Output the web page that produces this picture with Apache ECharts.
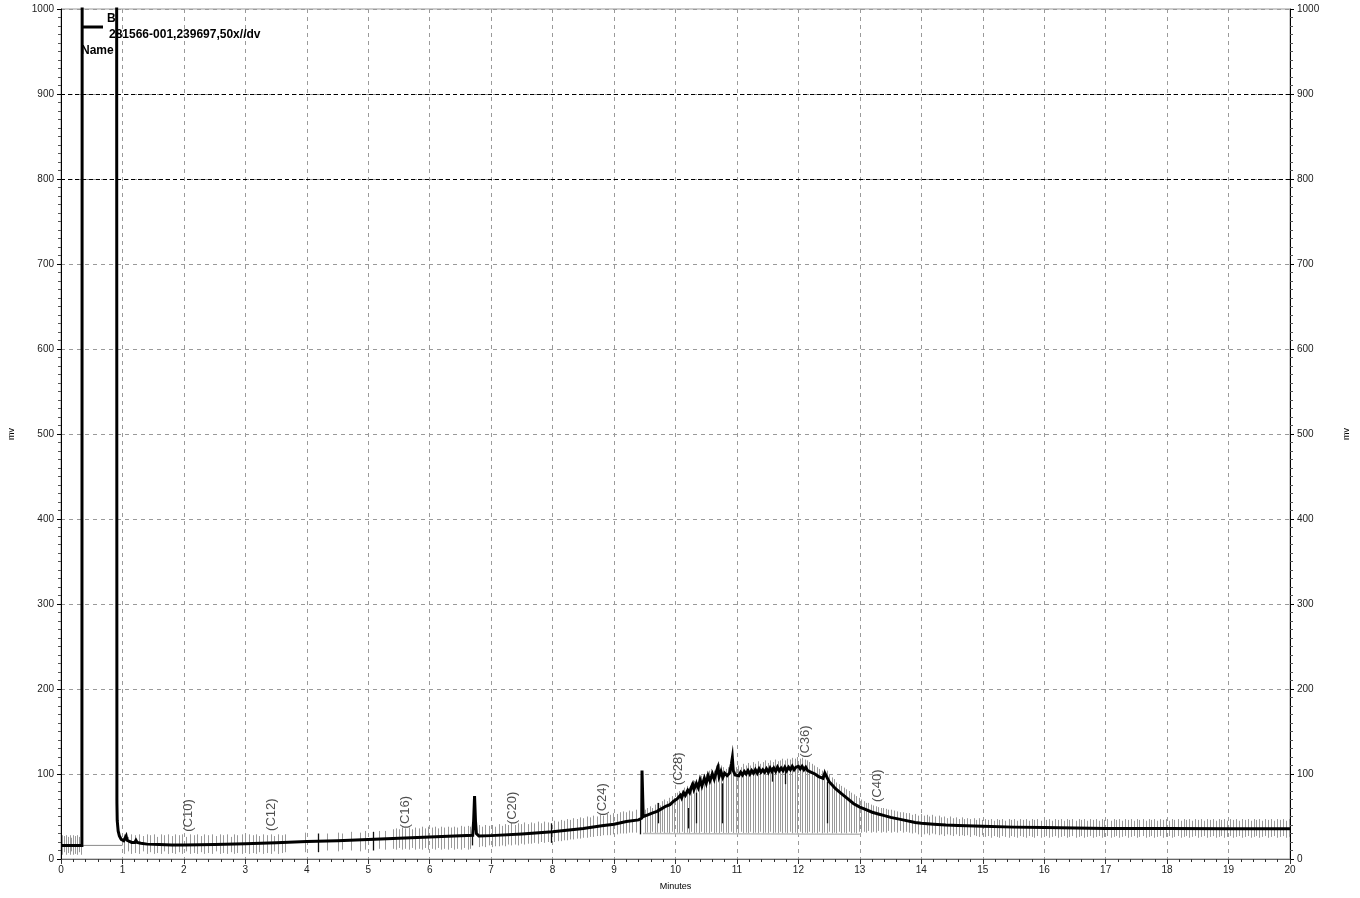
<!DOCTYPE html>
<html>
<head>
<meta charset="utf-8">
<script src="https://cdn.jsdelivr.net/npm/echarts@6/dist/echarts.min.js"></script>
<style>
html,body{margin:0;padding:0;background:#fff;}
#chart{width:1360px;height:898px;}
</style>
</head>
<body>
<div id="chart"></div>
<script>
// ---- chromatogram trace: [minutes, mV] ----
const traceData = [
[0,16],[0.34,16],[0.345,1200],[0.905,1200],[0.91,66],[0.915,45],[0.93,33],[0.95,27],[0.98,23],[1.02,21.5],
[1.05,22],[1.06,27],[1.075,22],[1.1,20],[1.15,19.5],[1.2,19.5],[1.22,22],[1.24,19.5],[1.3,18.5],[1.4,17.5],
[1.6,17],[1.8,16.5],[2.0,16.5],[2.5,17],[3.0,18],[3.5,19],[4.0,20.5],[4.5,21.5],[5.0,23],[5.5,24.5],
[6.0,26],[6.4,27],[6.7,28],[6.715,45],[6.73,74],[6.745,45],[6.76,30],[6.8,27],[7.0,27.5],[7.5,29.5],
[8.0,32],[8.5,36],[8.8,39],[9.0,41],[9.2,44],[9.4,46],[9.45,48],[9.455,104],[9.47,104],[9.475,50],
[9.5,49],[9.55,52],[9.58,50],[9.62,54],[9.65,52],[9.7,56],[9.73,54],[9.77,59],[9.8,57],[9.84,62],
[9.87,60],[9.91,64],[9.94,62],[9.97,68],[10.0,66],[10.03,71],[10.05,69],[10.08,75],[10.1,72],[10.13,78],
[10.16,75],[10.2,81],[10.23,78],[10.26,85],[10.28,88],[10.3,82],[10.34,89],[10.37,84],
[10.4,93],[10.43,86],[10.47,95],[10.5,89],[10.53,98],[10.56,92],[10.6,100],[10.63,94],[10.67,104],[10.69,108],
[10.71,97],[10.74,103],[10.77,96],[10.8,101],[10.84,98],[10.88,101],[10.91,112],[10.925,119],[10.94,104],[10.97,99],
[11.0,101],[11.03,98],[11.06,102],[11.09,99],[11.12,103],[11.15,100],[11.18,104],[11.21,100],[11.24,104],[11.27,101],
[11.3,105],[11.33,101],[11.36,106],[11.39,102],[11.42,105],[11.45,102],[11.48,106],[11.51,102],[11.54,107],[11.57,103],
[11.6,107],[11.63,103],[11.66,108],[11.69,104],[11.72,107],[11.75,104],[11.78,108],[11.81,104],[11.84,108],[11.87,105],
[11.9,109],[11.93,105],[11.96,108],[12.0,109],[12.03,106],[12.06,109],[12.09,105],[12.12,108],[12.15,104],[12.18,106],
[12.21,102],[12.24,104],[12.27,100],[12.3,101],[12.33,97],[12.36,98],[12.4,95],[12.43,101],
[12.46,100],[12.5,91],[12.55,87],[12.6,83],[12.7,77],[12.8,71],[12.9,65],[13.0,61],[13.1,58],[13.2,55],
[13.3,53],[13.4,51],[13.5,49],[13.7,46],[13.9,43],[14.0,42],[14.2,41],[14.4,40],[14.6,39.5],[15.0,38.5],
[15.5,37.5],[16.0,37],[16.5,36.5],[17.0,36],[18.0,36],[19.0,35.5],[20.0,35.5]
];

// ---- integration tick marks: [minutes, low mV, high mV] ----
const markerData = [
[0.02,5,28],[0.05,8,27],[0.08,5,28],[0.11,7,26],[0.14,5,28],[0.17,9,25],[0.2,5,28],[0.23,6,27],[0.26,5,28],[0.29,8,26],[0.32,5,28],
[1.02,6,29],[1.09,9,26],[1.14,6,29],[1.2,7,28],[1.27,6,29],[1.33,9,27],[1.4,6,29],[1.45,8,28],[1.52,6,29],[1.57,7,26],
[1.63,6,29],[1.68,9,28],[1.74,6,29],[1.8,7,27],[1.85,6,29],[1.92,8,28],[1.97,6,29],[2.04,9,26],[2.1,6,29],[2.16,7,28],
[2.22,6,29],[2.28,8,27],[2.33,6,29],[2.4,7,28],[2.46,6,29],[2.52,9,27],[2.58,6,29],[2.63,7,28],[2.7,6,29],[2.76,8,26],
[2.82,6,29],[2.87,7,28],[2.94,6,29],[3.0,9,27],[3.06,6,29],[3.12,7,28],[3.17,6,29],[3.23,8,27],[3.29,6,29],[3.35,7,28],
[3.41,6,29],[3.47,9,27],[3.53,6,29],[3.59,7,28],[3.65,8,29],
[3.97,8,31],[4.33,10,30],[4.5,9,31],[4.58,11,30],[4.72,10,32],[4.86,9,31],[4.95,11,33],[5.18,12,33],[5.28,11,33],
[5.4,12,35],[5.45,11,36],[5.5,13,35],[5.55,11,37],[5.6,12,36],[5.66,11,37],[5.71,13,35],[5.76,11,37],[5.82,12,36],[5.87,11,38],
[5.92,13,36],[5.97,11,38],[6.03,12,37],[6.08,11,38],[6.13,13,36],[6.19,11,38],[6.24,12,37],[6.29,11,38],[6.35,13,37],[6.4,11,38],
[6.45,12,37],[6.51,11,39],[6.56,13,38],[6.62,11,39],[6.66,12,38],
[6.8,14,40],[6.85,15,38],[6.9,14,40],[6.96,16,39],[7.01,14,40],[7.06,15,38],[7.12,15,41],[7.17,16,39],[7.22,15,41],[7.28,17,40],
[7.33,16,42],[7.38,17,40],[7.44,16,42],[7.49,18,41],[7.54,17,43],[7.6,18,41],[7.65,18,43],[7.7,19,42],[7.76,18,44],[7.81,20,42],
[7.86,19,44],[7.92,20,43],[8.02,20,45],[8.08,21,44],[8.13,21,46],[8.18,22,45],[8.24,22,47],[8.29,23,46],[8.34,23,48],[8.4,24,47],
[8.45,24,49],[8.5,25,48],[8.56,25,50],[8.61,26,49],[8.66,26,51],[8.72,27,50],[8.77,27,52],[8.82,28,51],[8.88,28,53],[8.93,28,52],
[8.98,29,54],[9.04,29,53],[9.09,30,55],[9.14,30,56],[9.2,30,55],[9.25,31,57],[9.3,31,56],[9.36,31,58],
[9.5,30,58],[9.54,31,60],[9.58,30,62],[9.62,32,60],[9.66,30,64],[9.7,31,66],[9.74,30,63],[9.78,32,68],[9.82,30,70],[9.86,31,68],
[9.9,30,72],[9.94,32,74],[9.98,30,72],[10.02,31,78],[10.06,30,80],[10.1,32,78],[10.14,30,84],[10.18,31,86],[10.22,30,84],[10.26,32,90],
[10.3,30,92],[10.34,31,94],[10.38,30,96],[10.42,32,98],[10.46,30,100],[10.5,31,100],[10.54,30,104],[10.58,32,106],[10.62,30,104],[10.66,31,110],
[10.7,30,112],[10.74,32,110],[10.78,30,108],[10.82,31,106],[10.86,30,108],[10.9,32,110],[10.94,30,112],[10.98,31,108],[11.02,30,110],[11.06,32,108],
[11.1,30,112],[11.14,31,110],[11.18,30,113],[11.22,32,110],[11.26,30,114],[11.3,31,112],[11.34,30,115],[11.38,32,112],[11.42,30,114],[11.46,31,116],
[11.5,30,113],[11.54,32,116],[11.58,30,114],[11.62,31,117],[11.66,30,115],[11.7,32,116],[11.74,30,118],[11.78,31,116],[11.82,30,118],[11.86,32,117],
[11.9,30,119],[11.94,31,118],[11.98,30,120],[12.02,32,118],[12.06,30,119],[12.1,31,117],[12.14,30,116],[12.18,32,114],[12.22,30,112],[12.26,31,110],
[12.3,30,108],[12.34,32,106],[12.38,30,104],[12.42,31,106],[12.46,30,104],[12.5,32,100],[12.54,30,96],[12.58,31,94],[12.62,30,90],[12.66,32,88],
[12.7,30,86],[12.74,31,84],[12.78,30,82],[12.82,32,80],[12.86,30,78],[12.9,31,76],[12.94,30,74],[12.98,32,72],[13.02,31,70],[13.06,32,68],
[13.1,31,66],[13.14,33,66],[13.18,31,64],[13.22,32,63],[13.26,31,62],[13.3,33,61],[13.34,31,60],[13.38,32,60],[13.42,31,59],[13.46,33,58],
[13.5,31,58],[13.55,32,57],[13.6,31,56],[13.65,33,55],[13.7,31,55],[13.75,32,54],
[13.8,31,54],[13.85,30,52],[13.9,31,53],[13.94,29,51],[13.99,30,53],[14.04,29,51],[14.09,30,52],[14.13,28,50],[14.18,30,52],[14.23,29,50],
[14.28,28,51],[14.32,29,49],[14.37,27,50],[14.42,29,48],[14.47,28,50],[14.51,27,48],[14.56,29,49],[14.61,27,47],[14.66,28,49],[14.7,27,47],
[14.75,28,48],[14.8,26,47],[14.85,28,48],[14.89,27,46],[14.94,26,48],[14.99,28,46],[15.04,26,47],[15.08,27,46],[15.13,25,47],[15.18,27,45],
[15.23,26,47],[15.27,25,46],[15.32,27,47],[15.37,26,45],[15.42,25,47],[15.46,27,46],[15.51,26,47],[15.56,25,45],[15.61,27,47],[15.65,26,46],
[15.7,25,47],[15.75,27,45],[15.8,26,47],[15.84,25,46],[15.89,27,47],[15.94,25,45],[15.99,26,47],[16.03,27,46],[16.08,25,47],[16.13,26,45],
[16.18,27,47],[16.22,25,46],[16.27,26,47],[16.32,27,45],[16.37,25,47],[16.41,26,46],[16.46,27,47],[16.51,25,45],[16.56,26,47],[16.6,27,46],
[16.65,25,47],[16.7,26,45],[16.75,27,47],[16.79,25,46],[16.84,26,47],[16.89,27,45],[16.94,25,47],[16.98,26,46],[17.03,27,47],[17.08,25,45],
[17.13,26,47],[17.17,27,46],[17.22,25,47],[17.27,26,45],[17.32,27,47],[17.36,25,46],[17.41,26,47],[17.46,27,45],[17.51,25,47],[17.55,26,46],
[17.6,27,47],[17.65,25,45],[17.7,26,47],[17.74,27,46],[17.79,25,47],[17.84,26,45],[17.89,27,47],[17.93,25,46],[17.98,26,47],[18.03,27,45],
[18.08,25,47],[18.12,26,46],[18.17,27,47],[18.22,25,45],[18.27,26,47],[18.31,27,46],[18.36,25,47],[18.41,26,45],[18.46,27,47],[18.5,25,46],
[18.55,26,47],[18.6,27,45],[18.65,25,47],[18.69,26,46],[18.74,27,47],[18.79,25,45],[18.84,26,47],[18.88,27,46],[18.93,25,47],[18.98,26,45],
[19.03,27,47],[19.07,25,46],[19.12,26,47],[19.17,27,45],[19.22,25,47],[19.26,26,46],[19.31,27,47],[19.36,25,45],[19.41,26,47],[19.45,27,46],
[19.5,25,47],[19.55,26,45],[19.6,27,47],[19.64,25,46],[19.69,26,47],[19.74,27,45],[19.79,25,47],[19.83,26,46],[19.88,27,47],[19.93,25,45],[19.98,26,47]
];

// darker (longer) tick marks: [minutes, low mV, high mV]
const darkMarkerData = [
[4.18,8,30],[5.07,10,32],[6.69,16,27],[7.98,19,42],[9.42,29,46],[9.72,42,66],[10.2,36,60],
[10.34,42,78],[10.75,42,89],[11.57,91,108],[11.79,88,108],[12.47,42,91]
];

// baseline segments drawn in thin grey
const baselineA = [[0,16],[1.0,16]];
const baselineB = [[9.47,30],[13.0,29]];

// peak name labels
const peakNames = ['(C10)','(C12)','(C16)','(C20)','(C24)','(C28)','(C36)','(C40)'];
const peakTimes = [2.08,3.43,5.6,7.35,8.81,10.05,12.11,13.29];
const peakLabelBase = [32,33,36,41,51,87,119,67];

// reference lines (dark dashed)
const darkGridValues = [800,900];

// header texts
const headerB = 'B';
const headerSample = '281566-001,239697,50x//dv';
const headerName = 'Name';

const FONT = '"Liberation Sans", Arial, sans-serif';

function tickRenderer(color, width){
  return function(params, api){
    const t = api.value(0);
    const p1 = api.coord([t, api.value(1)]);
    const p2 = api.coord([t, api.value(2)]);
    const x = Math.round(p1[0]) + 0.5;
    return {type:'line', shape:{x1:x, y1:p1[1], x2:x, y2:p2[1]},
      style:{stroke:color, lineWidth:width}};
  };
}

const labelData = peakNames.map((n,i)=>({value:[peakTimes[i], peakLabelBase[i]], name:n}));

const yAxisBase = {
  type:'value', min:0, max:1000, interval:100,
  name:'mv', nameLocation:'middle',
  nameTextStyle:{fontSize:9, color:'#000', fontFamily:FONT},
  axisLine:{show:true, lineStyle:{color:'#000', width:1}},
  axisTick:{show:true, length:4, lineStyle:{color:'#000'}},
  minorTick:{show:true, splitNumber:10, length:3, lineStyle:{color:'#555'}},
  axisLabel:{fontSize:10, color:'#222', margin:7, fontFamily:FONT, formatter:v=>String(v)}
};

const chart = echarts.init(document.getElementById('chart'), null, {renderer:'canvas'});
const option = {
  animation:false,
  backgroundColor:'#ffffff',
  textStyle:{fontFamily:FONT},
  grid:{left:61, right:70, top:9, bottom:39, outerBoundsMode:'none', containLabel:false,
        show:true, borderColor:'#999', borderWidth:1, backgroundColor:'transparent'},
  xAxis:{
    type:'value', min:0, max:20, interval:1,
    name:'Minutes', nameLocation:'middle', nameGap:23,
    nameTextStyle:{fontSize:9, color:'#000', fontFamily:FONT},
    axisLine:{show:true, onZero:false, lineStyle:{color:'#666', width:1}},
    axisTick:{show:true, length:5, lineStyle:{color:'#333'}},
    minorTick:{show:true, splitNumber:5, length:3, lineStyle:{color:'#333'}},
    axisLabel:{fontSize:10, color:'#222', margin:6, fontFamily:FONT},
    splitLine:{show:true, lineStyle:{type:[4,4], color:'#9a9a9a', width:1}}
  },
  yAxis:[
    Object.assign({}, yAxisBase, {position:'left', nameGap:45,
      splitLine:{show:true, lineStyle:{type:[4,4], color:'#9a9a9a', width:1}}}),
    Object.assign({}, yAxisBase, {position:'right', nameGap:52, splitLine:{show:false}})
  ],
  series:[
    {type:'custom', name:'ticks', xAxisIndex:0, yAxisIndex:0, z:2, silent:true,
     renderItem:tickRenderer('#999999', 1), encode:{x:0, y:[1,2]}, data:markerData},
    {type:'line', name:'baseA', data:baselineA, showSymbol:false, silent:true, z:3,
     lineStyle:{color:'#8a8a8a', width:1}},
    {type:'line', name:'baseB', data:baselineB, showSymbol:false, silent:true, z:3,
     lineStyle:{color:'#bbbbbb', width:1.5}},
    {type:'custom', name:'darkTicks', xAxisIndex:0, yAxisIndex:0, z:4, silent:true,
     renderItem:tickRenderer('#111', 1.3), encode:{x:0, y:[1,2]}, data:darkMarkerData},
    {type:'line', name:'trace', data:traceData, showSymbol:false, clip:true, z:6,
     lineStyle:{color:'#000', width:3, join:'miter'},
     markLine:{silent:true, symbol:['none','none'], label:{show:false},
       lineStyle:{color:'#000', type:[4,3], width:1},
       data:darkGridValues.map(v=>({yAxis:v}))}},
    {type:'scatter', name:'labels', data:labelData, symbolSize:0, z:7, silent:true,
     label:{show:true, formatter:p=>p.name, rotate:90, position:'inside', align:'left', verticalAlign:'middle',
       fontSize:13, color:'#222', fontFamily:FONT}}
  ],
  graphic:[
    {type:'line', shape:{x1:82, y1:27, x2:103, y2:27}, style:{stroke:'#000', lineWidth:3}, z:10},
    {type:'text', left:107, top:13, style:{text:headerB, font:'bold 12px '+FONT, fill:'#000'}, z:10},
    {type:'text', left:109, top:29, style:{text:headerSample, font:'bold 12px '+FONT, fill:'#000'}, z:10},
    {type:'text', left:81, top:45, style:{text:headerName, font:'bold 12px '+FONT, fill:'#000'}, z:10}
  ]
};
chart.setOption(option);
</script>
</body>
</html>
